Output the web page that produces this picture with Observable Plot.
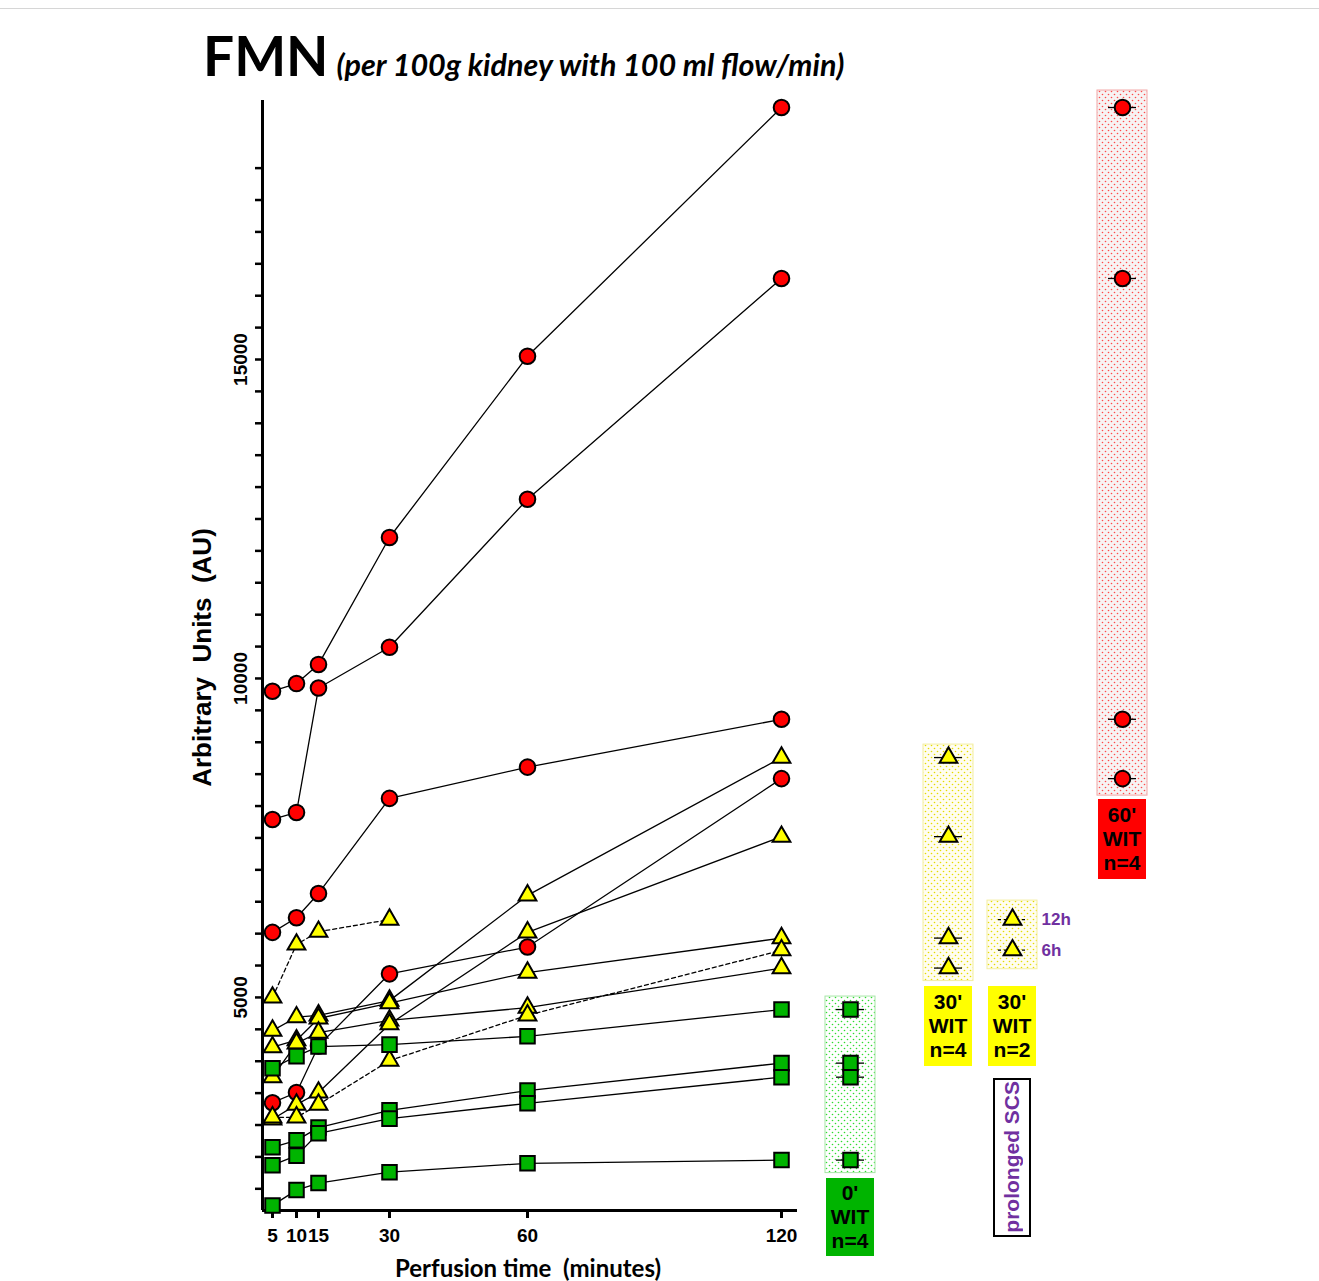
<!DOCTYPE html>
<html>
<head>
<meta charset="utf-8">
<script src="https://cdn.jsdelivr.net/npm/d3@7"></script>
<script src="https://cdn.jsdelivr.net/npm/@observablehq/plot@0.6"></script>
<style>
html,body{margin:0;padding:0;background:#fff;}
#wrap{position:relative;width:1319px;height:1281px;overflow:hidden;background:#fff;}
#topline{position:absolute;left:0;top:8px;width:1319px;height:1px;background:#d6d6d6;}
#title{position:absolute;left:203px;top:0;height:90px;width:1100px;display:flex;align-items:baseline;font-family:Lato,'Open Sans',sans-serif;font-weight:700;color:#000;white-space:nowrap;}
#title .big{font-size:55px;line-height:1;margin-top:28px;}
#title .sub{font-size:30.5px;font-style:italic;margin-left:8px;position:relative;top:0px;}
.layer{position:absolute;left:0;top:90px;}
.lab{position:absolute;width:48px;box-sizing:border-box;font:bold 21px 'Liberation Sans',Arial,sans-serif;color:#000;text-align:center;line-height:24px;display:flex;flex-direction:column;justify-content:center;align-items:center;}
#scs{position:absolute;box-sizing:border-box;border:2px solid #000;background:#fff;display:flex;align-items:center;justify-content:center;}
#scs span{writing-mode:vertical-rl;transform:rotate(180deg);font:bold 21px 'Liberation Sans',Arial,sans-serif;color:#7030a0;white-space:nowrap;}
</style>
</head>
<body>
<div id="wrap">
  <div id="topline"></div>
  <div id="title"><span class="big">FMN</span><span class="sub">(per 100g kidney with 100 ml flow/min)</span></div>
  <div id="main" class="layer"></div>
  <div id="side" class="layer"></div>
</div>
<script>
// ---------- data ----------
const times = [5, 10, 15, 30, 60, 120];

// 60' WIT (red circles)
const red1 = [9800, 9920, 10220, 12210, 15050, 18950];
const red2 = [7790, 7900, 9850, 10490, 12810, 16270];
const red3 = [6020, 6250, 6630, 8120, 8610, 9360];
const red4 = [3350, 3510, 4240, 5370, 5790, 8430];

// 0' WIT (green squares)
const green1 = [3890, 4080, 4230, 4260, 4390, 4810];
const green2 = [2650, 2760, 2960, 3230, 3540, 3970];
const green3 = [2370, 2520, 2870, 3100, 3340, 3750];
const green4 = [1740, 1980, 2090, 2260, 2400, 2450];

// 30' WIT (yellow triangles, solid)
const yellow1 = [4480, 4690, 4720, 4950, 6600, 8760];
const yellow2 = [4220, 4330, 4670, 4910, 5390, 5930];
const yellow3 = [3750, 4280, 4450, 4640, 4840, 5460];
const yellow4 = [3090, 3320, 3510, 4580, 6020, 7520];

// 30' WIT with prolonged SCS (yellow triangles, dashed)
const scs12h = [5000, 5830, 6030, 6220];
const scs6h = [3120, 3120, 3320, 4010, 4720, 5740];
const scsLabels = ["12h", "6h"];

// axes
const yTicks = d3.range(2000, 18001, 500);
const yLabelTicks = [5000, 10000, 15000];
const yDomain = [1660, 19060];
const xDomain = [2.9, 5, 10, 15, 30, 60, 120, 123.8];
const yTitle = "Arbitrary\u00a0 Units\u00a0 (AU)";
const xTitle = "Perfusion time\u00a0 (minutes)";

// ---------- layout ----------
const W = 1319, H = 1191;
const xRange = [262, 272, 296, 318, 389, 527, 781, 797];
const panelSlots = [0, 1, 2, 3];
const panelRange = [850, 948, 1012, 1122];

const series = [
  {id: "r1", group: "red", vals: red1}, {id: "r2", group: "red", vals: red2},
  {id: "r3", group: "red", vals: red3}, {id: "r4", group: "red", vals: red4},
  {id: "y1", group: "yellow", vals: yellow1}, {id: "y2", group: "yellow", vals: yellow2},
  {id: "y3", group: "yellow", vals: yellow3}, {id: "y4", group: "yellow", vals: yellow4},
  {id: "s12", group: "scs", vals: scs12h}, {id: "s6", group: "scs", vals: scs6h},
  {id: "g1", group: "green", vals: green1}, {id: "g2", group: "green", vals: green2},
  {id: "g3", group: "green", vals: green3}, {id: "g4", group: "green", vals: green4}
];
const rows = series.flatMap(s => s.vals.map((v, i) => ({id: s.id, group: s.group, t: times[i], v})));

const sty = {
  red: {fill: "#ff0000", symbol: "circle", r: 7.8},
  green: {fill: "#00b400", symbol: "square", r: 8.2},
  yellow: {fill: "#ffff00", symbol: "triangle", r: 6.6},
  scs: {fill: "#ffff00", symbol: "triangle", r: 6.6}
};

const dotMark = (data, g, extra = {}) => Plot.dot(data, {
  symbol: sty[g].symbol, r: sty[g].r, fill: sty[g].fill, stroke: "#000", strokeWidth: 2, ...extra
});

const baseStyle = {fontFamily: "'Liberation Sans', Arial, sans-serif", fontWeight: "bold", color: "#000", background: "transparent", overflow: "visible"};

const main = Plot.plot({
  width: W, height: H,
  marginTop: 10, marginBottom: 71, marginLeft: 262, marginRight: W - 797,
  x: {type: "linear", domain: xDomain, range: xRange, label: null},
  y: {domain: yDomain, label: null},
  style: baseStyle,
  marks: [
    Plot.ruleY([yDomain[0]], {stroke: "#000", strokeWidth: 3}),
    Plot.ruleX([xDomain[0]], {stroke: "#000", strokeWidth: 3}),
    Plot.axisY({ticks: yTicks, tickSize: 7, tickFormat: () => "", strokeWidth: 2.5, label: null}),
    Plot.axisX({ticks: times, tickSize: 8, tickPadding: 10, strokeWidth: 3, fontSize: 19, label: null, tickFormat: d => String(d)}),
    Plot.text(yLabelTicks, {y: d => d, text: d => String(d), frameAnchor: "left", textAnchor: "middle", rotate: -90, dx: -22, fontSize: 19}),
    Plot.text([yTitle], {text: d => d, frameAnchor: "left", textAnchor: "middle", rotate: -90, dx: -60, dy: 2, fontSize: 26}),
    Plot.text([xTitle], {text: d => d, frameAnchor: "bottom", textAnchor: "middle", lineAnchor: "bottom", dy: 66, dx: -2, fontSize: 24, fontFamily: "Lato, 'Open Sans', sans-serif"}),
    Plot.line(rows.filter(d => d.group !== "scs"), {x: "t", y: "v", z: "id", stroke: "#000", strokeWidth: 1.3}),
    Plot.line(rows.filter(d => d.group === "scs"), {x: "t", y: "v", z: "id", stroke: "#000", strokeWidth: 1.3, strokeDasharray: "4,3"}),
    dotMark(rows.filter(d => d.group === "red"), "red", {x: "t", y: "v"}),
    dotMark(rows.filter(d => d.group === "yellow" || d.group === "scs"), "yellow", {x: "t", y: "v"}),
    dotMark(rows.filter(d => d.group === "green"), "green", {x: "t", y: "v"})
  ]
});
document.getElementById("main").appendChild(main);

// ---------- side panels (final values at 120 min) ----------
const last = a => a[a.length - 1];
const panels = [
  {slot: 0, g: "green", vals: [green1, green2, green3, green4].map(last), pattern: "dotG", border: "#a6e6a6", pad: 13, dash: null},
  {slot: 1, g: "yellow", vals: [yellow1, yellow2, yellow3, yellow4].map(last), pattern: "dotY", border: "#f3eea0", pad: 13, dash: null},
  {slot: 2, g: "scs", vals: [last(scs12h), last(scs6h)], pattern: "dotY", border: "#f3eea0", pad: 19, dash: "3,3"},
  {slot: 3, g: "red", vals: [red1, red2, red3, red4].map(last), pattern: "dotR", border: "#f2a6a6", pad: 17, dash: null}
];

const sideMarks = [];
for (const p of panels) {
  sideMarks.push(Plot.rect([{lo: d3.min(p.vals), hi: d3.max(p.vals)}], {
    x1: () => p.slot, x2: () => p.slot, y1: "lo", y2: "hi",
    insetLeft: -25, insetRight: -25, insetTop: -p.pad, insetBottom: -p.pad,
    fill: `url(#${p.pattern})`, stroke: p.border, strokeWidth: 1
  }));
  sideMarks.push(Plot.ruleY(p.vals, {
    y: d => d, x1: () => p.slot, x2: () => p.slot, insetLeft: -14, insetRight: -14,
    stroke: "#000", strokeWidth: 1.3, strokeDasharray: p.dash
  }));
  sideMarks.push(dotMark(p.vals, p.g, {x: () => p.slot, y: d => d}));
}
sideMarks.push(Plot.text(scsLabels, {
  x: () => 2, y: (d, i) => [last(scs12h), last(scs6h)][i], text: d => d,
  dx: 29, textAnchor: "start", fill: "#7030a0", fontSize: 17, letterSpacing: "0.5px"
}));

const side = Plot.plot({
  width: W, height: H,
  marginTop: 10, marginBottom: 71, marginLeft: 262, marginRight: W - 797,
  x: {type: "linear", domain: panelSlots, range: panelRange, axis: null},
  y: {domain: yDomain, axis: null},
  style: baseStyle,
  marks: sideMarks
});

// dotted fill patterns
const NS = "http://www.w3.org/2000/svg";
const defs = document.createElementNS(NS, "defs");
function pattern(id, bg, dot) {
  const pt = document.createElementNS(NS, "pattern");
  pt.setAttribute("id", id); pt.setAttribute("width", 6); pt.setAttribute("height", 6);
  pt.setAttribute("patternUnits", "userSpaceOnUse");
  const r = document.createElementNS(NS, "rect");
  r.setAttribute("width", 6); r.setAttribute("height", 6); r.setAttribute("fill", bg);
  pt.appendChild(r);
  for (const [cx, cy] of [[1.5, 1.5], [4.5, 4.5]]) {
    const c = document.createElementNS(NS, "circle");
    c.setAttribute("cx", cx); c.setAttribute("cy", cy); c.setAttribute("r", 0.8); c.setAttribute("fill", dot);
    pt.appendChild(c);
  }
  defs.appendChild(pt);
}
pattern("dotG", "#ffffff", "#2fdc2f");
pattern("dotY", "#fffdf0", "#e6dc00");
pattern("dotR", "#f7f3f3", "#ff4a4a");
side.insertBefore(defs, side.firstChild);
side.style.pointerEvents = "none";
document.getElementById("side").appendChild(side);

// ---------- group label boxes (legend) ----------
const sx = side.scale("x"), sy = side.scale("y");
const wrap = document.getElementById("wrap");
const top0 = 90;
function labelBox(lines, slot, top, h, bg) {
  const d = document.createElement("div");
  d.className = "lab";
  d.style.left = (sx.apply(slot) - 24) + "px";
  d.style.top = top + "px";
  d.style.height = h + "px";
  d.style.background = bg;
  d.innerHTML = lines.join("<br>");
  wrap.appendChild(d);
  return top + h;
}
const boxBottom = p => top0 + sy.apply(d3.min(p.vals)) + p.pad;
labelBox(["0'", "WIT", "n=4"], 0, boxBottom(panels[0]) + 5, 78, "#00b400");
const yTop = boxBottom(panels[1]) + 5;
labelBox(["30'", "WIT", "n=4"], 1, yTop, 80, "#ffff00");
const scsBottom = labelBox(["30'", "WIT", "n=2"], 2, yTop, 80, "#ffff00");
labelBox(["60'", "WIT", "n=4"], 3, boxBottom(panels[3]) + 4, 80, "#ff0000");

const scs = document.createElement("div");
scs.id = "scs";
scs.style.left = (sx.apply(2) - 19) + "px";
scs.style.top = (scsBottom + 12) + "px";
scs.style.width = "38px";
scs.style.height = "159px";
scs.innerHTML = "<span>prolonged SCS</span>";
wrap.appendChild(scs);
</script>
</body>
</html>
